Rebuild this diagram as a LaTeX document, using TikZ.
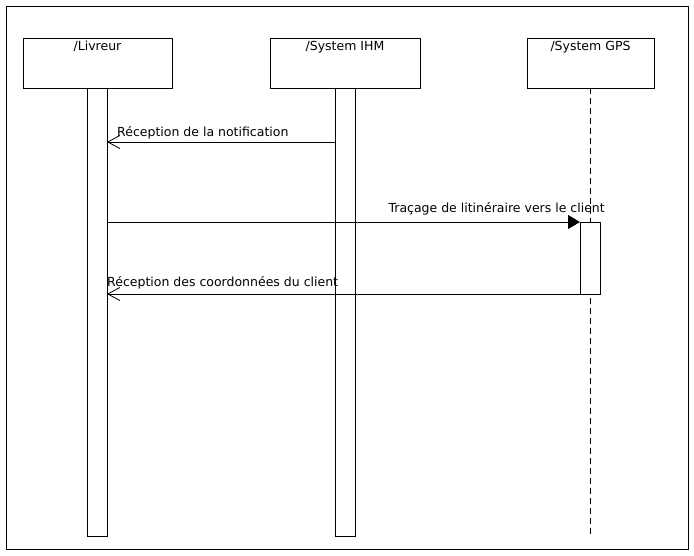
\documentclass[tikz,border=0pt]{standalone}
\usepackage{fontspec}
\setmainfont{DejaVu Sans}
\usetikzlibrary{arrows.meta}
\begin{document}
\begin{tikzpicture}[x=1pt,y=-1pt,
  lbl/.style={font=\fontsize{12.5}{14}\selectfont, inner sep=0pt},
  objbox/.style={draw, line width=0.9pt, fill=white},
  actbox/.style={draw, line width=0.9pt, fill=white},
  openmsg/.style={line width=0.8pt, -{Straight Barb[length=12pt,width=13pt,line width=0.8pt]}},
  fullmsg/.style={line width=0.8pt, -{Triangle[length=12pt,width=14pt]}}]
\useasboundingbox (0,0) rectangle (694,556);
\draw[line width=0.9pt] (6,6) rectangle (688,549);
% lifeline of GPS
\draw[dashed, dash pattern=on 6pt off 4pt, line width=0.8pt] (590,88) -- (590,536);
% objects
\draw[objbox] (23,38) rectangle (172,88);
\node[lbl, anchor=base] (livl) at (97.5,51) {/Livreur};
\draw[objbox] (270,38) rectangle (420,88);
\node[lbl, anchor=base] (ihml) at (345,51) {/System IHM};
\draw[objbox] (527,38) rectangle (654,88);
\node[lbl, anchor=base] (gpsl) at (590.5,51) {/System GPS};
% activations
\draw[actbox] (87,88) rectangle (107,536);
\draw[actbox] (335,88) rectangle (355,536);
\draw[actbox] (580,222) rectangle (600,294);
% coordinates
\coordinate (m1s) at (335,142);
\coordinate (m1e) at (107,142);
\coordinate (m2s) at (107,222);
\coordinate (m2e) at (580,222);
\coordinate (m3s) at (580,294);
\coordinate (m3e) at (107,294);
% messages
\draw[openmsg] (m1s) -- (m1e);
\node[lbl, anchor=base west] (t1) at (117,137) {Réception de la notification};
\draw[fullmsg] (m2s) -- (m2e);
\node[lbl, anchor=base east] (t2) at (605,213) {Traçage de litinéraire vers le client};
\draw[openmsg] (m3s) -- (m3e);
\node[lbl, anchor=base west] (t3) at (107,287) {Réception des coordonnées du client};
\end{tikzpicture}
\end{document}
